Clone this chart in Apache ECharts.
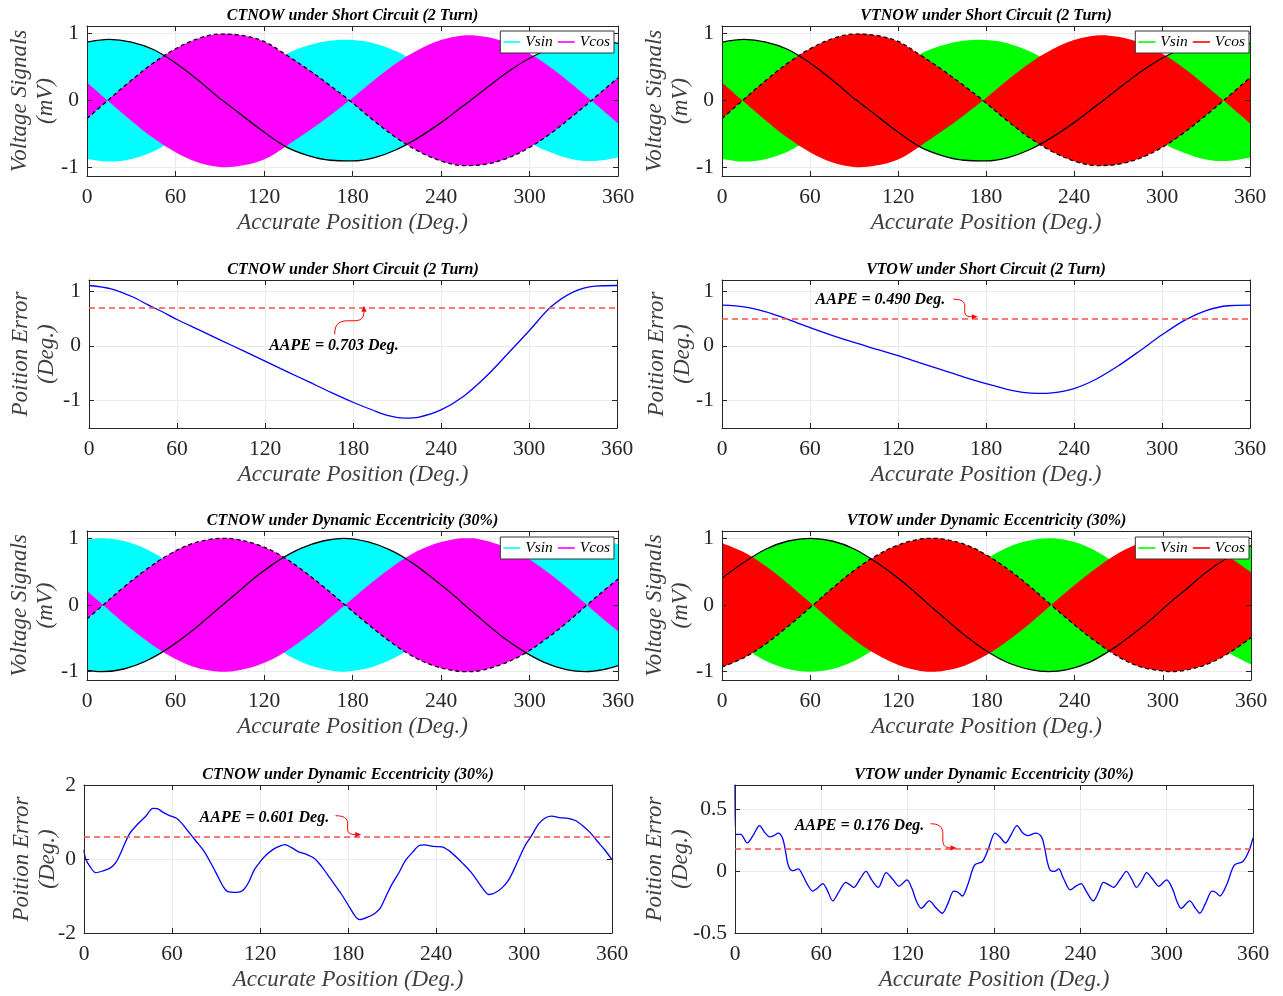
<!DOCTYPE html>
<html>
<head>
<meta charset="utf-8">
<title>CTNOW / VTNOW resolver signals and position errors</title>
<script src="https://cdn.jsdelivr.net/npm/echarts@6.0.0/dist/echarts.min.js"></script>
<style>
html,body{margin:0;padding:0;background:#ffffff;}
#chart{width:1283px;height:996px;}
</style>
</head>
<body>
<div id="chart"></div>
<script>
// ======================= DATA =======================
const xTickValues = [0, 60, 120, 180, 240, 300, 360];
const signalYTicks = [-1, 0, 1];
const scErrorYTicks = [-1, 0, 1];
const ctDeErrorYTicks = [-2, 0, 2];
const vtDeErrorYTicks = [-0.5, 0, 0.5];
const legendNames = ['Vsin', 'Vcos'];
const xAxisTitle = 'Accurate Position (Deg.)';
const signalYTitle = 'Voltage Signals\n(mV)';
const errorYTitle = 'Poition Error\n(Deg.)';
const panelTitles = [
  'CTNOW under Short Circuit (2 Turn)',
  'VTNOW under Short Circuit (2 Turn)',
  'CTNOW under Short Circuit (2 Turn)',
  'VTOW under Short Circuit (2 Turn)',
  'CTNOW under Dynamic Eccentricity (30%)',
  'VTOW under Dynamic Eccentricity (30%)',
  'CTNOW under Dynamic Eccentricity (30%)',
  'VTOW under Dynamic Eccentricity (30%)'
];
const aapeValues = [0.703, 0.490, 0.601, 0.176];

// envelopes of the carrier signals [position deg, envelope mV]
const ctScVsinEnv = [[0,0.87],[15,0.91],[30,0.87],[45,0.76],[60,0.56],[75,0.31],[90,0.03],[92,0],[105,-0.22],[120,-0.47],[135,-0.69],[150,-0.82],[165,-0.89],[180,-0.90],[195,-0.85],[210,-0.73],[225,-0.55],[240,-0.33],[255,-0.08],[260,0],[270,0.17],[285,0.42],[300,0.63],[315,0.78],[330,0.88],[345,0.90],[360,0.85]];
const ctScVcosEnv = [[0,-0.27],[14,0],[30,0.30],[45,0.56],[60,0.77],[75,0.92],[90,0.99],[105,0.97],[120,0.88],[135,0.68],[150,0.46],[165,0.22],[178,0],[195,-0.31],[210,-0.56],[225,-0.76],[240,-0.90],[255,-0.97],[270,-0.95],[285,-0.86],[300,-0.70],[315,-0.48],[330,-0.22],[342,0],[360,0.34]];
const vtScVsinEnv = [[0,0.87],[15,0.91],[30,0.87],[45,0.76],[60,0.56],[75,0.31],[90,0.03],[92,0],[105,-0.22],[120,-0.47],[135,-0.69],[150,-0.82],[165,-0.89],[180,-0.90],[195,-0.85],[210,-0.73],[225,-0.55],[240,-0.33],[255,-0.08],[260,0],[270,0.17],[285,0.42],[300,0.63],[315,0.78],[330,0.88],[345,0.90],[360,0.85]];
const vtScVcosEnv = [[0,-0.27],[14,0],[30,0.30],[45,0.56],[60,0.77],[75,0.92],[90,0.99],[105,0.97],[120,0.88],[135,0.68],[150,0.46],[165,0.22],[178,0],[195,-0.31],[210,-0.56],[225,-0.76],[240,-0.90],[255,-0.97],[270,-0.95],[285,-0.86],[300,-0.70],[315,-0.48],[330,-0.22],[342,0],[360,0.34]];
const ctDeVsinEnv = [[0,-0.98],[10,-1.0],[25,-0.96],[40,-0.84],[55,-0.65],[70,-0.41],[85,-0.13],[92,0],[100,0.15],[115,0.43],[130,0.67],[145,0.85],[160,0.96],[174,1.0],[190,0.95],[205,0.83],[220,0.64],[235,0.39],[250,0.12],[256,0],[265,-0.17],[280,-0.45],[295,-0.68],[310,-0.86],[325,-0.97],[338,-1.0],[350,-0.97],[360,-0.91]];
const ctDeVcosEnv = [[0,-0.21],[11,0],[25,0.27],[40,0.53],[55,0.75],[70,0.91],[85,0.99],[93,1.0],[100,0.99],[115,0.91],[130,0.76],[145,0.54],[160,0.28],[175,0],[190,-0.28],[205,-0.54],[220,-0.76],[235,-0.91],[250,-0.99],[257,-1.0],[265,-0.99],[280,-0.90],[295,-0.75],[310,-0.53],[325,-0.27],[339,0],[350,0.21],[360,0.39]];
const vtDeVsinEnv = [[0,0.40],[15,0.64],[30,0.84],[45,0.96],[60,1.0],[75,0.96],[90,0.84],[105,0.64],[120,0.40],[135,0.12],[141,0],[150,-0.17],[165,-0.45],[180,-0.69],[195,-0.87],[210,-0.97],[222,-1.0],[235,-0.97],[250,-0.86],[265,-0.67],[280,-0.43],[295,-0.16],[303,0],[315,0.22],[330,0.50],[345,0.72],[360,0.89]];
const vtDeVcosEnv = [[0,-0.93],[15,-0.79],[30,-0.58],[45,-0.32],[62,0],[75,0.25],[90,0.52],[105,0.74],[120,0.90],[135,0.99],[143,1.0],[150,0.99],[165,0.91],[180,0.75],[195,0.53],[210,0.27],[224,0],[240,-0.30],[255,-0.56],[270,-0.78],[285,-0.93],[300,-0.99],[305,-1.0],[315,-0.98],[330,-0.89],[345,-0.72],[360,-0.49]];

// position errors [position deg, error deg]
const ctScError = [[0,1.10],[15,1.04],[30,0.89],[40,0.75],[50,0.62],[60,0.48],[75,0.29],[90,0.10],[105,-0.09],[120,-0.28],[135,-0.47],[150,-0.66],[165,-0.85],[180,-1.03],[195,-1.19],[205,-1.28],[215,-1.32],[225,-1.30],[240,-1.17],[255,-0.93],[270,-0.58],[285,-0.16],[300,0.27],[315,0.71],[330,0.98],[345,1.09],[360,1.10]];
const vtScError = [[0,0.74],[15,0.71],[30,0.62],[40,0.53],[50,0.43],[60,0.33],[75,0.19],[90,0.06],[105,-0.06],[120,-0.18],[135,-0.31],[150,-0.44],[165,-0.57],[180,-0.69],[195,-0.80],[205,-0.85],[215,-0.87],[225,-0.86],[240,-0.78],[255,-0.61],[270,-0.37],[285,-0.09],[300,0.20],[315,0.46],[330,0.64],[345,0.73],[360,0.74]];
const ctDeError = [[0,0.25],[1,0.02],[4,-0.2],[8,-0.37],[13,-0.32],[18,-0.24],[22,-0.08],[26,0.25],[31,0.68],[37,0.96],[42,1.15],[47,1.37],[50,1.36],[54,1.26],[58,1.18],[63,1.10],[67,0.95],[71,0.75],[76,0.50],[82,0.20],[87,-0.15],[91,-0.45],[95,-0.75],[98,-0.88],[104,-0.90],[108,-0.86],[112,-0.65],[116,-0.30],[120,-0.08],[124,0.10],[129,0.26],[133,0.34],[137,0.39],[141,0.32],[146,0.20],[152,0.12],[157,0.02],[162,-0.20],[166,-0.42],[171,-0.70],[176,-0.98],[181,-1.30],[185,-1.55],[188,-1.64],[193,-1.58],[198,-1.48],[202,-1.33],[206,-1.0],[210,-0.68],[215,-0.35],[219,-0.05],[224,0.18],[228,0.35],[232,0.38],[238,0.34],[244,0.33],[249,0.22],[254,0.05],[259,-0.15],[264,-0.36],[268,-0.58],[272,-0.80],[276,-0.96],[280,-0.92],[285,-0.78],[289,-0.60],[293,-0.30],[297,0.05],[301,0.38],[305,0.62],[310,0.95],[315,1.12],[319,1.16],[324,1.12],[330,1.10],[335,1.04],[340,0.90],[345,0.72],[350,0.48],[355,0.25],[360,-0.02]];
const vtDeError = [[0,0.70],[0.6,0.30],[4,0.30],[8.5,0.23],[13,0.30],[17,0.37],[21,0.31],[24,0.28],[27,0.29],[30,0.31],[33,0.27],[35,0.17],[37,0.05],[40,0.005],[44,0.02],[47,-0.03],[50,-0.10],[54,-0.16],[57,-0.14],[61,-0.10],[64,-0.15],[68,-0.24],[72,-0.17],[77,-0.09],[80,-0.11],[82.5,-0.13],[87,-0.06],[91,0.0],[95,-0.07],[99.6,-0.13],[105,-0.01],[110,-0.07],[114,-0.12],[119.5,-0.07],[123,-0.14],[126,-0.24],[129.5,-0.30],[135,-0.24],[140,-0.30],[144,-0.34],[148,-0.26],[152,-0.16],[155,-0.17],[158,-0.20],[162,-0.10],[166.5,0.05],[172,0.08],[176,0.18],[180.7,0.31],[184,0.28],[188,0.23],[192,0.30],[196,0.37],[200,0.31],[203.5,0.29],[209,0.31],[213,0.28],[215,0.20],[217,0.08],[219,0.01],[222,0.0],[225,0.02],[228,-0.05],[233,-0.15],[237,-0.12],[240.5,-0.10],[244,-0.16],[249,-0.24],[253,-0.16],[256,-0.09],[260,-0.11],[263,-0.13],[268,-0.06],[272,0.0],[276,-0.07],[279,-0.13],[283,-0.07],[286,-0.01],[290,-0.06],[294.5,-0.12],[300,-0.07],[304,-0.14],[307,-0.24],[310,-0.30],[316,-0.24],[320,-0.30],[323,-0.34],[327,-0.26],[331.5,-0.16],[334,-0.17],[337,-0.20],[342,-0.10],[347,0.05],[353,0.08],[357,0.16],[360,0.27]];

// ======================= LAYOUT / STYLE =======================
const SERIF = '"Liberation Serif","Times New Roman",serif';
const AXC = '#262626';
const GRIDC = '#ebebeb';
const NAMEC = '#404040';
const SMOOTH = 0.35;

const panels = [
  {kind:'sig', left:87,  top:26,  width:531, height:150, yMin:-1.125, yMax:1.11, yTicks:signalYTicks, gap:28, sin:ctScVsinEnv, cos:ctScVcosEnv, colors:['#00ffff','#ff00ff'], legend:{right:669, top:31}},
  {kind:'sig', left:722, top:26,  width:528, height:150, yMin:-1.125, yMax:1.11, yTicks:signalYTicks, gap:28, sin:vtScVsinEnv, cos:vtScVcosEnv, colors:['#00ff00','#ff0000'], legend:{right:34, top:31}},
  {kind:'err', left:89,  top:280, width:528, height:148, yMin:-1.5, yMax:1.2, yTicks:scErrorYTicks, gap:29, err:ctScError, aape:aapeValues[0], ann:[167,0,167.5,0.21,187.5,0.73], mode:'v'},
  {kind:'err', left:722, top:280, width:528, height:148, yMin:-1.5, yMax:1.2, yTicks:scErrorYTicks, gap:26, err:vtScError, aape:aapeValues[1], ann:[108,0.83,157.7,0.85,174.4,0.53], mode:'h'},
  {kind:'sig', left:87,  top:531, width:531, height:149, yMin:-1.125, yMax:1.11, yTicks:signalYTicks, gap:28, sin:ctDeVsinEnv, cos:ctDeVcosEnv, colors:['#00ffff','#ff00ff'], legend:{right:669, top:537}},
  {kind:'sig', left:722, top:531, width:529, height:149, yMin:-1.125, yMax:1.11, yTicks:signalYTicks, gap:28, sin:vtDeVsinEnv, cos:vtDeVcosEnv, colors:['#00ff00','#ff0000'], legend:{right:34, top:537}},
  {kind:'err', left:84,  top:785, width:528, height:148, yMin:-2, yMax:2, yTicks:ctDeErrorYTicks, gap:23, err:ctDeError, aape:aapeValues[2], ann:[123,1.11,171.5,1.17,189,0.66], mode:'h'},
  {kind:'err', left:735, top:785, width:518, height:148, yMin:-0.5, yMax:0.7, yTicks:vtDeErrorYTicks, gap:41, err:vtDeError, aape:aapeValues[3], ann:[86.5,0.367,136,0.386,154,0.19], mode:'h'}
];

// ======================= HELPERS =======================
// same bezier smoothing rule as the ECharts line series (smooth = SMOOTH)
function smoothTo(pts, s) {
  let out = '';
  let cp0 = pts[0];
  for (let i = 1; i < pts.length; i++) {
    const prev = pts[i - 1], p = pts[i], next = pts[i + 1];
    let ncp, vx = 0, vy = 0, ratio = 0.5;
    if (!next) { ncp = p; }
    else {
      vx = next[0] - prev[0]; vy = next[1] - prev[1];
      const l0 = Math.hypot(p[0] - prev[0], p[1] - prev[1]);
      const l1 = Math.hypot(next[0] - p[0], next[1] - p[1]);
      ratio = (l0 + l1) > 0 ? l1 / (l0 + l1) : 0.5;
      ncp = [p[0] - vx * s * (1 - ratio), p[1] - vy * s * (1 - ratio)];
    }
    out += 'C' + cp0[0] + ' ' + cp0[1] + ' ' + ncp[0] + ' ' + ncp[1] + ' ' + p[0] + ' ' + p[1];
    cp0 = [p[0] + vx * s * ratio, p[1] + vy * s * ratio];
  }
  return out;
}

// filled carrier band between -|envelope| and +|envelope|, split into lobes at zeros
function bandRenderer(env, color) {
  return function (params, api) {
    if (params.dataIndex !== 0) return null;
    const lobes = [];
    let cur = [];
    env.forEach(function (p, k) {
      cur.push(p);
      if (p[1] === 0 && k > 0 && k < env.length - 1) { lobes.push(cur); cur = [p]; }
    });
    lobes.push(cur);
    let d = '';
    lobes.forEach(function (lobe) {
      const up = lobe.map(function (p) { return api.coord([p[0], Math.abs(p[1])]); });
      const lo = lobe.slice().reverse().map(function (p) { return api.coord([p[0], -Math.abs(p[1])]); });
      d += 'M' + up[0][0] + ' ' + up[0][1] + smoothTo(up, SMOOTH) +
           'L' + lo[0][0] + ' ' + lo[0][1] + smoothTo(lo, SMOOTH) + 'Z';
    });
    return {type: 'path', shape: {pathData: d}, style: {fill: color, stroke: null}};
  };
}

function annotationRenderer(label, mode) {
  return function (params, api) {
    const t = api.coord([api.value(0), api.value(1)]);
    const s = api.coord([api.value(2), api.value(3)]);
    const e = api.coord([api.value(4), api.value(5)]);
    const dx = e[0] - s[0], dy = e[1] - s[1];
    let c1, c2;
    if (mode === 'v') { c1 = [s[0], s[1] + dy * 0.9]; c2 = [e[0], s[1] + dy * 0.1]; }
    else { c1 = [s[0] + dx * 0.9, s[1]]; c2 = [s[0] + dx * 0.1, e[1]]; }
    const ang = Math.atan2(e[1] - c2[1], e[0] - c2[0]);
    const L = 6, W = 2.6;
    const bx = e[0] - L * Math.cos(ang), by = e[1] - L * Math.sin(ang);
    const pts = [[e[0], e[1]], [bx - W * Math.sin(ang), by + W * Math.cos(ang)], [bx + W * Math.sin(ang), by - W * Math.cos(ang)]];
    return {
      type: 'group',
      children: [
        {type: 'text', style: {text: label, x: t[0], y: t[1], align: 'center', verticalAlign: 'middle', fontFamily: SERIF, fontSize: 16, fontWeight: 'bold', fontStyle: 'italic', fill: '#000'}},
        {type: 'bezierCurve', shape: {x1: s[0], y1: s[1], x2: bx, y2: by, cpx1: c1[0], cpy1: c1[1], cpx2: c2[0], cpy2: c2[1]}, style: {stroke: '#ff0000', lineWidth: 1, fill: null}},
        {type: 'polygon', shape: {points: pts}, style: {fill: '#ff0000'}}
      ]
    };
  };
}

// ======================= BUILD OPTION =======================
const option = {
  animation: false,
  backgroundColor: '#ffffff',
  title: [], legend: [], grid: [], xAxis: [], yAxis: [], series: []
};

panels.forEach(function (p, i) {
  option.grid.push({left: p.left, top: p.top, width: p.width, height: p.height, containLabel: false, outerBoundsMode: 'none'});
  option.title.push({
    text: panelTitles[i], left: p.left + p.width / 2, top: p.top - 18, textAlign: 'center', textVerticalAlign: 'top', padding: 0,
    textStyle: {fontFamily: SERIF, fontSize: 16, fontWeight: 'bold', fontStyle: 'italic', color: '#000'}
  });

  const xb = {gridIndex: i, type: 'value', min: xTickValues[0], max: xTickValues[xTickValues.length - 1], interval: 60};
  const yb = {gridIndex: i, type: 'value', min: p.yMin, max: p.yMax};
  const lineOn = {show: true, onZero: false, lineStyle: {color: AXC, width: 1}};
  const tickIn = {show: true, inside: true, length: 5, lineStyle: {color: AXC, width: 1}};
  // x axes: grid lines (under data), main bottom axis, mirrored top axis
  option.xAxis.push(Object.assign({}, xb, {position: 'bottom', z: 0, axisLine: {show: false, onZero: false}, axisTick: {show: false}, axisLabel: {show: false}, splitLine: {show: true, lineStyle: {color: GRIDC, width: 1}}}));
  option.xAxis.push(Object.assign({}, xb, {position: 'bottom', z: 3, axisLine: lineOn, axisTick: tickIn,
    axisLabel: {show: true, margin: 10, fontFamily: SERIF, fontSize: 21.5, color: AXC},
    splitLine: {show: false},
    name: xAxisTitle, nameLocation: 'middle', nameGap: 35, nameMoveOverlap: false,
    nameTextStyle: {fontFamily: SERIF, fontSize: 23, fontStyle: 'italic', color: NAMEC}}));
  option.xAxis.push(Object.assign({}, xb, {position: 'top', z: 3, axisLine: lineOn, axisTick: tickIn, axisLabel: {show: false}, splitLine: {show: false}}));
  // y axes
  option.yAxis.push(Object.assign({}, yb, {position: 'left', z: 0, axisLine: {show: false, onZero: false}, axisTick: {show: false, customValues: p.yTicks}, axisLabel: {show: false, customValues: p.yTicks}, splitLine: {show: true, lineStyle: {color: GRIDC, width: 1}}}));
  option.yAxis.push(Object.assign({}, yb, {position: 'left', z: 3, axisLine: lineOn,
    axisTick: Object.assign({}, tickIn, {customValues: p.yTicks}),
    axisLabel: {show: true, margin: 8, fontFamily: SERIF, fontSize: 21.5, color: AXC, customValues: p.yTicks},
    splitLine: {show: false},
    name: p.kind === 'sig' ? signalYTitle : errorYTitle, nameLocation: 'middle', nameRotate: 90, nameGap: p.gap, nameMoveOverlap: false,
    nameTextStyle: {fontFamily: SERIF, fontSize: 23, fontStyle: 'italic', color: NAMEC, lineHeight: 26}}));
  option.yAxis.push(Object.assign({}, yb, {position: 'right', z: 3, axisLine: lineOn, axisTick: Object.assign({}, tickIn, {customValues: p.yTicks}), axisLabel: {show: false, customValues: p.yTicks}, splitLine: {show: false}}));

  const ai = 3 * i + 1;
  if (p.kind === 'sig') {
    option.series.push({type: 'custom', name: legendNames[0], xAxisIndex: ai, yAxisIndex: ai, data: p.sin, silent: true, z: 1, clip: true, renderItem: bandRenderer(p.sin, p.colors[0])});
    option.series.push({type: 'custom', name: legendNames[1], xAxisIndex: ai, yAxisIndex: ai, data: p.cos, silent: true, z: 1, clip: true, renderItem: bandRenderer(p.cos, p.colors[1])});
    option.series.push({type: 'line', xAxisIndex: ai, yAxisIndex: ai, data: p.sin, smooth: SMOOTH, symbol: 'none', silent: true, z: 2, lineStyle: {color: '#000', width: 1.3}});
    option.series.push({type: 'line', xAxisIndex: ai, yAxisIndex: ai, data: p.cos, smooth: SMOOTH, symbol: 'none', silent: true, z: 2, lineStyle: {color: '#000', width: 1.3, type: [4, 3]}});
    option.legend.push({
      right: p.legend.right, top: p.legend.top, orient: 'horizontal', selectedMode: false,
      icon: 'rect', itemWidth: 17, itemHeight: 1.6, itemGap: 5, padding: [3, 4, 3, 3],
      backgroundColor: '#ffffff', borderColor: '#333333', borderWidth: 1, borderRadius: 0,
      textStyle: {fontFamily: SERIF, fontSize: 15.5, fontStyle: 'italic', color: '#000'},
      data: [
        {name: legendNames[0], icon: 'rect', itemStyle: {color: p.colors[0]}},
        {name: legendNames[1], icon: 'rect', itemStyle: {color: p.colors[1]}}
      ]
    });
  } else {
    option.series.push({
      type: 'line', xAxisIndex: ai, yAxisIndex: ai, data: p.err, smooth: 0.3, symbol: 'none', silent: true, z: 2,
      lineStyle: {color: '#0000ff', width: 1.3},
      markLine: {silent: true, symbol: 'none', label: {show: false}, animation: false,
        lineStyle: {color: '#ff4d4d', type: [6, 4], width: 1.5}, data: [{yAxis: p.aape}]}
    });
    option.series.push({
      type: 'custom', xAxisIndex: ai, yAxisIndex: ai, silent: true, z: 5, clip: false,
      data: [p.ann],
      renderItem: annotationRenderer('AAPE = ' + p.aape.toFixed(3) + ' Deg.', p.mode)
    });
  }
});

const chart = echarts.init(document.getElementById('chart'), null, {renderer: 'canvas'});
chart.setOption(option);
</script>
</body>
</html>
